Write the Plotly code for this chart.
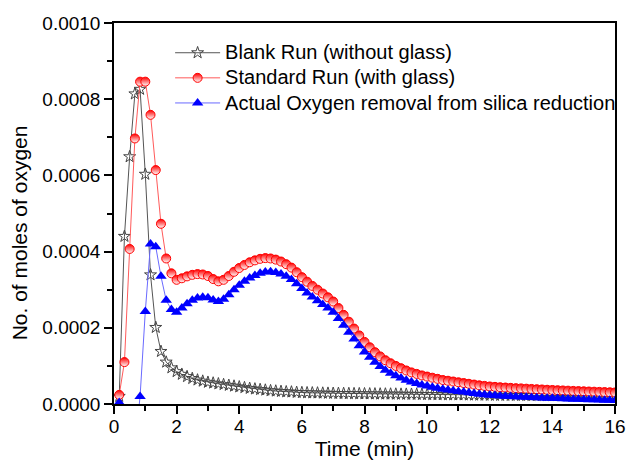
import plotly.graph_objects as go

# sampling every 10 s, expressed in minutes
time_s = list(range(10, 970, 10))
time_min = [s / 60 for s in time_s]

SCALE = 1e-6  # values below are in micro-moles

blank_umol = [
    20, 440, 649, 814, 826, 603, 339, 201, 138, 110, 95, 85,
    78, 72, 67, 63, 60, 57,
    55, 53, 51, 49, 47, 45,
    43, 41, 39.5, 38, 36.5, 35,
    34, 33, 32, 31.5, 30.5, 30,
    29.5, 29.2, 28.9, 28.6, 28.3, 28.0,
    27.8, 27.6, 27.4, 27.2, 27.0, 26.8,
    26.6, 26.5, 26.3, 26.2, 26.1, 26.0,
    25.8, 25.7, 25.5, 25.4, 25.2, 25.0,
    24.8, 24.7, 24.5, 24.3, 24.2, 24.0,
    23.8, 23.7, 23.5, 23.3, 23.2, 23.0,
    22.9, 22.8, 22.8, 22.7, 22.6, 22.5,
    22.4, 22.3, 22.3, 22.2, 22.1, 22.0,
    21.9, 21.8, 21.8, 21.7, 21.6, 21.5,
    21.4, 21.3, 21.3, 21.2, 21.1, 21.0,
]

standard_umol = [
    24, 110, 407, 697, 846, 846, 759, 614, 473, 382, 343, 326,
    330, 335, 339, 341, 340, 336,
    328, 322, 326, 336, 347, 357,
    365, 372, 377, 381, 383, 382,
    379, 374, 367, 358, 346, 333,
    321, 310, 300, 290, 280, 269,
    252, 234, 216, 198, 180, 163,
    149, 136, 125, 115, 107, 100,
    94, 88, 83, 79, 75, 72,
    69, 66, 63, 61, 59, 57,
    55, 53, 51, 49, 47.5, 46,
    45, 44, 43.2, 42.4, 41.6, 41,
    40.2, 39.5, 38.8, 38.1, 37.4, 36.8,
    36.2, 35.6, 35, 34.4, 33.8, 33.3,
    32.8, 32.3, 31.8, 31.3, 30.8, 30.3,
]

actual_umol = [
    4, -330, -242, -117, 20, 243, 420, 413, 335, 272, 248, 241,
    252, 263, 272, 278, 280, 279,
    273, 269, 275, 287, 300, 312,
    322, 331, 337.5, 343, 346.5, 347,
    345, 341, 335, 326.5, 315.5, 303,
    291.5, 280.8, 271.1, 261.4, 251.7, 241,
    224.2, 206.4, 188.6, 170.8, 153, 136.2,
    122.4, 109.5, 98.7, 88.8, 80.9, 74,
    68.2, 62.3, 57.5, 53.6, 49.8, 47,
    44.2, 41.3, 38.5, 36.7, 34.8, 33,
    31.2, 29.3, 27.5, 25.7, 24.3, 23,
    22.1, 21.2, 20.4, 19.7, 19, 18.5,
    17.8, 17.2, 16.5, 15.9, 15.3, 14.8,
    14.3, 13.8, 13.2, 12.7, 12.2, 11.8,
    11.4, 11, 10.5, 10.1, 9.7, 9.3,
]

names = [
    "Blank Run (without glass)",
    "Standard Run (with glass)",
    "Actual Oxygen removal from silica reduction",
]

x_ticks = [0, 2, 4, 6, 8, 10, 12, 14, 16]
y_ticks = [0.0, 0.0002, 0.0004, 0.0006, 0.0008, 0.0010]

FONT = "Arial, Liberation Sans, sans-serif"

blank = [v * SCALE for v in blank_umol]
standard = [v * SCALE for v in standard_umol]
actual = [v * SCALE for v in actual_umol]


def legend_label(s):
    return f'<span style="font-size:20px">{s}</span>'


fig = go.Figure()
fig.add_trace(go.Scatter(
    x=time_min, y=blank, name=legend_label(names[0]), mode="lines+markers",
    line=dict(color="#555555", width=1),
    marker=dict(symbol="star-open", size=9, color="#444444", line=dict(width=1, color="#444444")),
))
fig.add_trace(go.Scatter(
    x=time_min, y=standard, name=legend_label(names[1]), mode="lines+markers",
    line=dict(color="#ff5a5a", width=1),
    marker=dict(symbol="circle", size=9, color="#ff0000",
                gradient=dict(type="vertical", color="#ffffff"),
                line=dict(width=1, color="#ff0000")),
))
fig.add_trace(go.Scatter(
    x=time_min, y=actual, name=legend_label(names[2]), mode="lines+markers",
    line=dict(color="#6a6aff", width=1),
    marker=dict(symbol="triangle-up", size=10, color="#0000ff", line=dict(width=0)),
))

axis_common = dict(
    showline=True, linecolor="black", linewidth=1.5, mirror=True,
    ticks="outside", ticklen=8, tickwidth=1.5, tickcolor="black",
    showgrid=False, zeroline=False, automargin=False,
    tickfont=dict(family=FONT, size=19, color="black"),
)

fig.update_xaxes(
    range=[0, 16], tickvals=x_ticks, ticktext=[str(v) for v in x_ticks],
    ticklabelstandoff=-4,
    minor=dict(ticks="outside", ticklen=5, tickwidth=1.5, tickcolor="black", dtick=1, showgrid=False),
    title=dict(text="Time (min)", font=dict(family=FONT, size=21, color="black"), standoff=4),
    **axis_common,
)
fig.update_yaxes(
    range=[0, 0.001], tickvals=y_ticks, ticktext=[f"{v:.4f}" for v in y_ticks],
    minor=dict(ticks="outside", ticklen=5, tickwidth=1.5, tickcolor="black", dtick=0.0001, showgrid=False),
    **axis_common,
)

fig.add_annotation(
    text="No. of moles of oxygen", textangle=-90, xref="paper", yref="paper",
    x=-0.188, y=0.45, showarrow=False, xanchor="center", yanchor="middle",
    font=dict(family=FONT, size=21, color="black"),
)

fig.update_layout(
    width=627, height=460,
    margin=dict(l=114, r=12, t=23, b=56, autoexpand=False),
    paper_bgcolor="white", plot_bgcolor="white",
    showlegend=True,
    legend=dict(
        x=0.112, y=0.968, xanchor="left", yanchor="top",
        bgcolor="rgba(0,0,0,0)", borderwidth=0,
        font=dict(family=FONT, size=17, color="black"),
        itemwidth=45, tracegroupgap=0,
    ),
)

fig.write_html("out.html")
